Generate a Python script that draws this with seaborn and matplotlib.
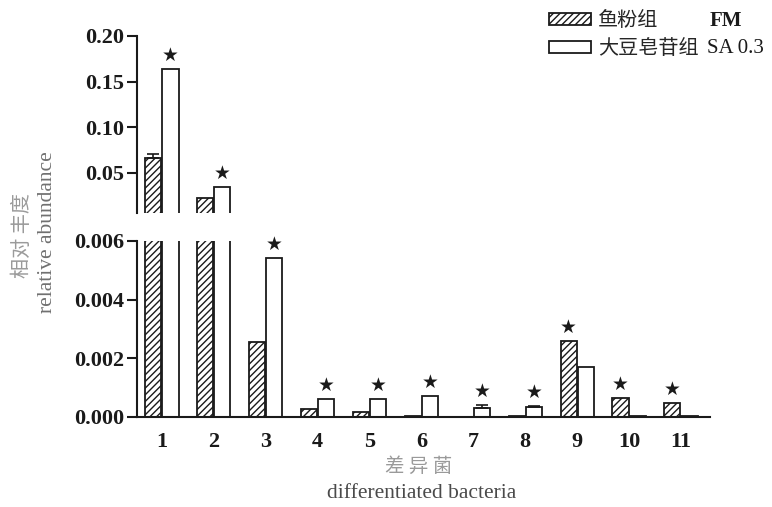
import matplotlib
matplotlib.use("Agg")
import matplotlib.pyplot as plt
import matplotlib.patches as mpatches
import seaborn as sns
import pandas as pd
import numpy as np

# ---------------- data ----------------
groups = ["1", "2", "3", "4", "5", "6", "7", "8", "9", "10", "11"]
series = ["FM", "SA 0.3"]
fm_values = [0.066, 0.023, 0.00256, 0.00027, 0.00017, 0.00003, 0.00001, 0.00004, 0.0026, 0.00065, 0.00048]
sa_values = [0.164, 0.035, 0.00543, 0.00062, 0.00062, 0.00072, 0.00030, 0.00034, 0.0017, 0.00004, 0.00004]
fm_err = [0.005, 0, 0, 0, 0, 0, 0, 0, 0, 0, 0]
sa_err = [0, 0, 0, 0, 0, 0, 0.00012, 0.00003, 0, 0, 0]
fm_sig = [False, False, False, False, False, False, False, False, True, True, True]
sa_sig = [True, True, True, True, True, True, True, True, False, False, False]
top_ticks = [0.05, 0.10, 0.15, 0.20]
bottom_ticks = [0.000, 0.002, 0.004, 0.006]
legend_cn = ["鱼粉组", "大豆皂苷组"]
break_value = 0.006

df = pd.DataFrame({
    "group": groups * 2,
    "series": [series[0]] * len(groups) + [series[1]] * len(groups),
    "value": fm_values + sa_values,
})
errs = {series[0]: fm_err, series[1]: sa_err}
sigs = {series[0]: fm_sig, series[1]: sa_sig}

# ---------------- style ----------------
sns.set_style("white")
plt.rcParams["hatch.linewidth"] = 1.0
plt.rcParams["hatch.color"] = "#222222"
serif = "Liberation Serif"
cjk = ["Noto Sans CJK SC", "DejaVu Sans"]

W, H = 772, 507
fig = plt.figure(figsize=(W / 100, H / 100), dpi=100)
left, right = 137 / W, 710 / W
ax_top = fig.add_axes([left, 1 - 213 / H, right - left, (213 - 36) / H])
ax_bot = fig.add_axes([left, 1 - 417 / H, right - left, (417 - 241) / H])

for ax in (ax_top, ax_bot):
    sns.barplot(data=df, x="group", y="value", hue="series", order=groups,
                hue_order=series, palette=["white", "white"], edgecolor="#1a1a1a",
                linewidth=1.3, width=0.66, gap=0.06, errorbar=None, legend=False, ax=ax)
    bar_containers = list(ax.containers)[:len(series)]
    for s_i, cont in enumerate(bar_containers):
        name = series[s_i]
        for g_i, bar in enumerate(cont):
            if s_i == 0:
                bar.set_hatch("/////")
            cx = bar.get_x() + bar.get_width() / 2
            h = bar.get_height()
            e = errs[name][g_i]
            if e > 0:
                ax.errorbar(cx, h, yerr=[[0], [e]], color="#1a1a1a", capsize=4,
                            elinewidth=1.2, capthick=1.2)
            if sigs[name][g_i]:
                in_top = h > break_value
                if (ax is ax_top) == in_top:
                    ax.annotate("★", (cx, h + e), xytext=(0, 3), textcoords="offset points",
                                ha="center", va="bottom", fontsize=13.5, color="#1a1a1a",
                                family="DejaVu Sans", annotation_clip=False)
    ax.set_xlim(-0.48, len(groups) - 1 + 0.56)
    ax.set_xlabel("")
    ax.set_ylabel("")
    ax.patch.set_alpha(0)
    for sp in ["top", "right"]:
        ax.spines[sp].set_visible(False)
    ax.spines["left"].set_linewidth(1.5)
    ax.spines["left"].set_color("#1a1a1a")
    ax.tick_params(axis="y", direction="out", length=7, width=1.5, color="#1a1a1a",
                   left=True, pad=2)

ax_top.set_ylim(0.0062, 0.20)
ax_top.set_yticks(top_ticks)
ax_top.set_yticklabels([f"{t:.2f}" for t in top_ticks])
ax_top.spines["bottom"].set_visible(False)
ax_top.set_xticks([])

ax_bot.set_ylim(0, break_value)
ax_bot.set_yticks(bottom_ticks)
ax_bot.set_yticklabels([f"{t:.3f}" for t in bottom_ticks])
ax_bot.spines["bottom"].set_linewidth(1.5)
ax_bot.spines["bottom"].set_color("#1a1a1a")
ax_bot.tick_params(axis="x", length=0, pad=11)

for ax in (ax_top, ax_bot):
    for lab in ax.get_yticklabels() + ax.get_xticklabels():
        lab.set_fontfamily(serif)
        lab.set_fontweight("bold")
        lab.set_fontsize(16)
        lab.set_color("#1a1a1a")

# axis titles
fig.text(22 / W, 1 - 236 / H, "相对 丰度", rotation=90, ha="center", va="center",
         fontsize=14.5, color="#9a9a9a", family=cjk)
fig.text(48 / W, 1 - 232 / H, "relative abundance", rotation=90, ha="center", va="center",
         fontsize=15.5, color="#707070", family=serif)
fig.text(419 / W, 1 - 466 / H, "差 异 菌", ha="center", va="center",
         fontsize=14, color="#9a9a9a", family=cjk)
fig.text(422 / W, 1 - 493 / H, "differentiated bacteria", ha="center", va="center",
         fontsize=15.5, color="#4a4a4a", family=serif)

# legend
handles = [mpatches.Patch(facecolor="white", edgecolor="#1a1a1a", hatch="/////", linewidth=1.3),
           mpatches.Patch(facecolor="white", edgecolor="#1a1a1a", linewidth=1.3)]
leg = fig.legend(handles, legend_cn, loc="upper left", bbox_to_anchor=(549 / W, 1 - 10 / H),
                 frameon=False, handlelength=2.1, handleheight=0.5, handletextpad=0.35,
                 labelspacing=0.35, borderpad=0, borderaxespad=0,
                 prop={"family": cjk, "size": 14.5})
fig.canvas.draw()
renderer = fig.canvas.get_renderer()
inv = fig.transFigure.inverted()
for txt, lab_x, lab in zip(leg.get_texts(), [710, 707], series):
    bb = txt.get_window_extent(renderer)
    (_, y0), (_, y1) = inv.transform([(bb.x0, bb.y0), (bb.x1, bb.y1)])
    fig.text(lab_x / W, (y0 + y1) / 2, lab, ha="left", va="center", fontsize=15,
             family=serif, fontweight="bold" if lab == "FM" else "normal", color="#1a1a1a")

fig.savefig("out.png", dpi=100)
